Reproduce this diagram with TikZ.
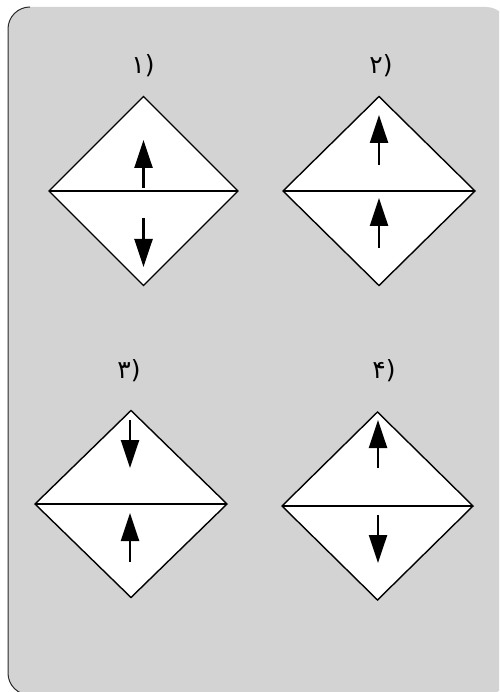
\documentclass[tikz,border=0pt]{standalone}
\usepackage{fontspec}
\newfontfamily\digitfont{DejaVu Sans}
\usetikzlibrary{arrows.meta}
\definecolor{bggray}{HTML}{D3D3D3}
\definecolor{edgegray}{HTML}{2A2A2A}
\tikzset{
  panel/.style={draw=black, fill=white, line width=1.4pt, line join=miter},
  midline/.style={draw=black, line width=1.6pt},
  spin/.style={line width=2.4pt, -{Triangle[length=28pt,width=18pt]}, shorten >=0pt},
  lbl/.style={font=\digitfont\fontsize{25}{30}\selectfont, inner sep=0pt}
}
\newcommand{\mydiamond}[5]{%
  % #1 name, #2 cx, #3 cy, #4 half width, #5 half height
  \coordinate (#1t) at (#2,#3-#5);
  \coordinate (#1b) at (#2,#3+#5);
  \coordinate (#1l) at (#2-#4,#3);
  \coordinate (#1r) at (#2+#4,#3);
  \path[panel] (#1t) -- (#1r) -- (#1b) -- (#1l) -- cycle;
  \draw[midline] (#1l) -- (#1r);
}
\begin{document}
\begin{tikzpicture}[x=1pt,y=-1pt]
\useasboundingbox (0,0) rectangle (499,692);
\begin{scope}
\clip (0,0) rectangle (499,692);
\fill[bggray, rounded corners=22pt] (8,7) rectangle (508,695);
\draw[edgegray, line width=1pt, rounded corners=22pt] (30,7) -- (8,7) -- (8,695) -- (30,695);
\end{scope}
% diamonds
\mydiamond{A}{143.5}{191}{94.5}{94.5}
\mydiamond{B}{379}{191}{96}{94.5}
\mydiamond{C}{131}{504}{96}{93.5}
\mydiamond{D}{377.5}{506}{95.5}{94}
% labels
\node[lbl] (la) at (143,66) {۱)};
\node[lbl] (lb) at (381,66) {۲)};
\node[lbl] (lc) at (129,371) {۳)};
\node[lbl] (ld) at (384,371) {۴)};
% arrows
\coordinate (a1s) at (143.5,188); \coordinate (a1e) at (143.5,140);
\coordinate (a2s) at (143.5,218); \coordinate (a2e) at (143.5,267);
\coordinate (b1s) at (379,165); \coordinate (b1e) at (379,115);
\coordinate (b2s) at (379,248); \coordinate (b2e) at (379,198);
\coordinate (c1s) at (130,420); \coordinate (c1e) at (130,468);
\coordinate (c2s) at (130,562); \coordinate (c2e) at (130,513);
\coordinate (d1s) at (378,468); \coordinate (d1e) at (378,420);
\coordinate (d2s) at (378,515); \coordinate (d2e) at (378,563);
\draw[spin] (a1s) -- (a1e);
\draw[spin] (a2s) -- (a2e);
\draw[spin] (b1s) -- (b1e);
\draw[spin] (b2s) -- (b2e);
\draw[spin] (c1s) -- (c1e);
\draw[spin] (c2s) -- (c2e);
\draw[spin] (d1s) -- (d1e);
\draw[spin] (d2s) -- (d2e);
\end{tikzpicture}
\end{document}
